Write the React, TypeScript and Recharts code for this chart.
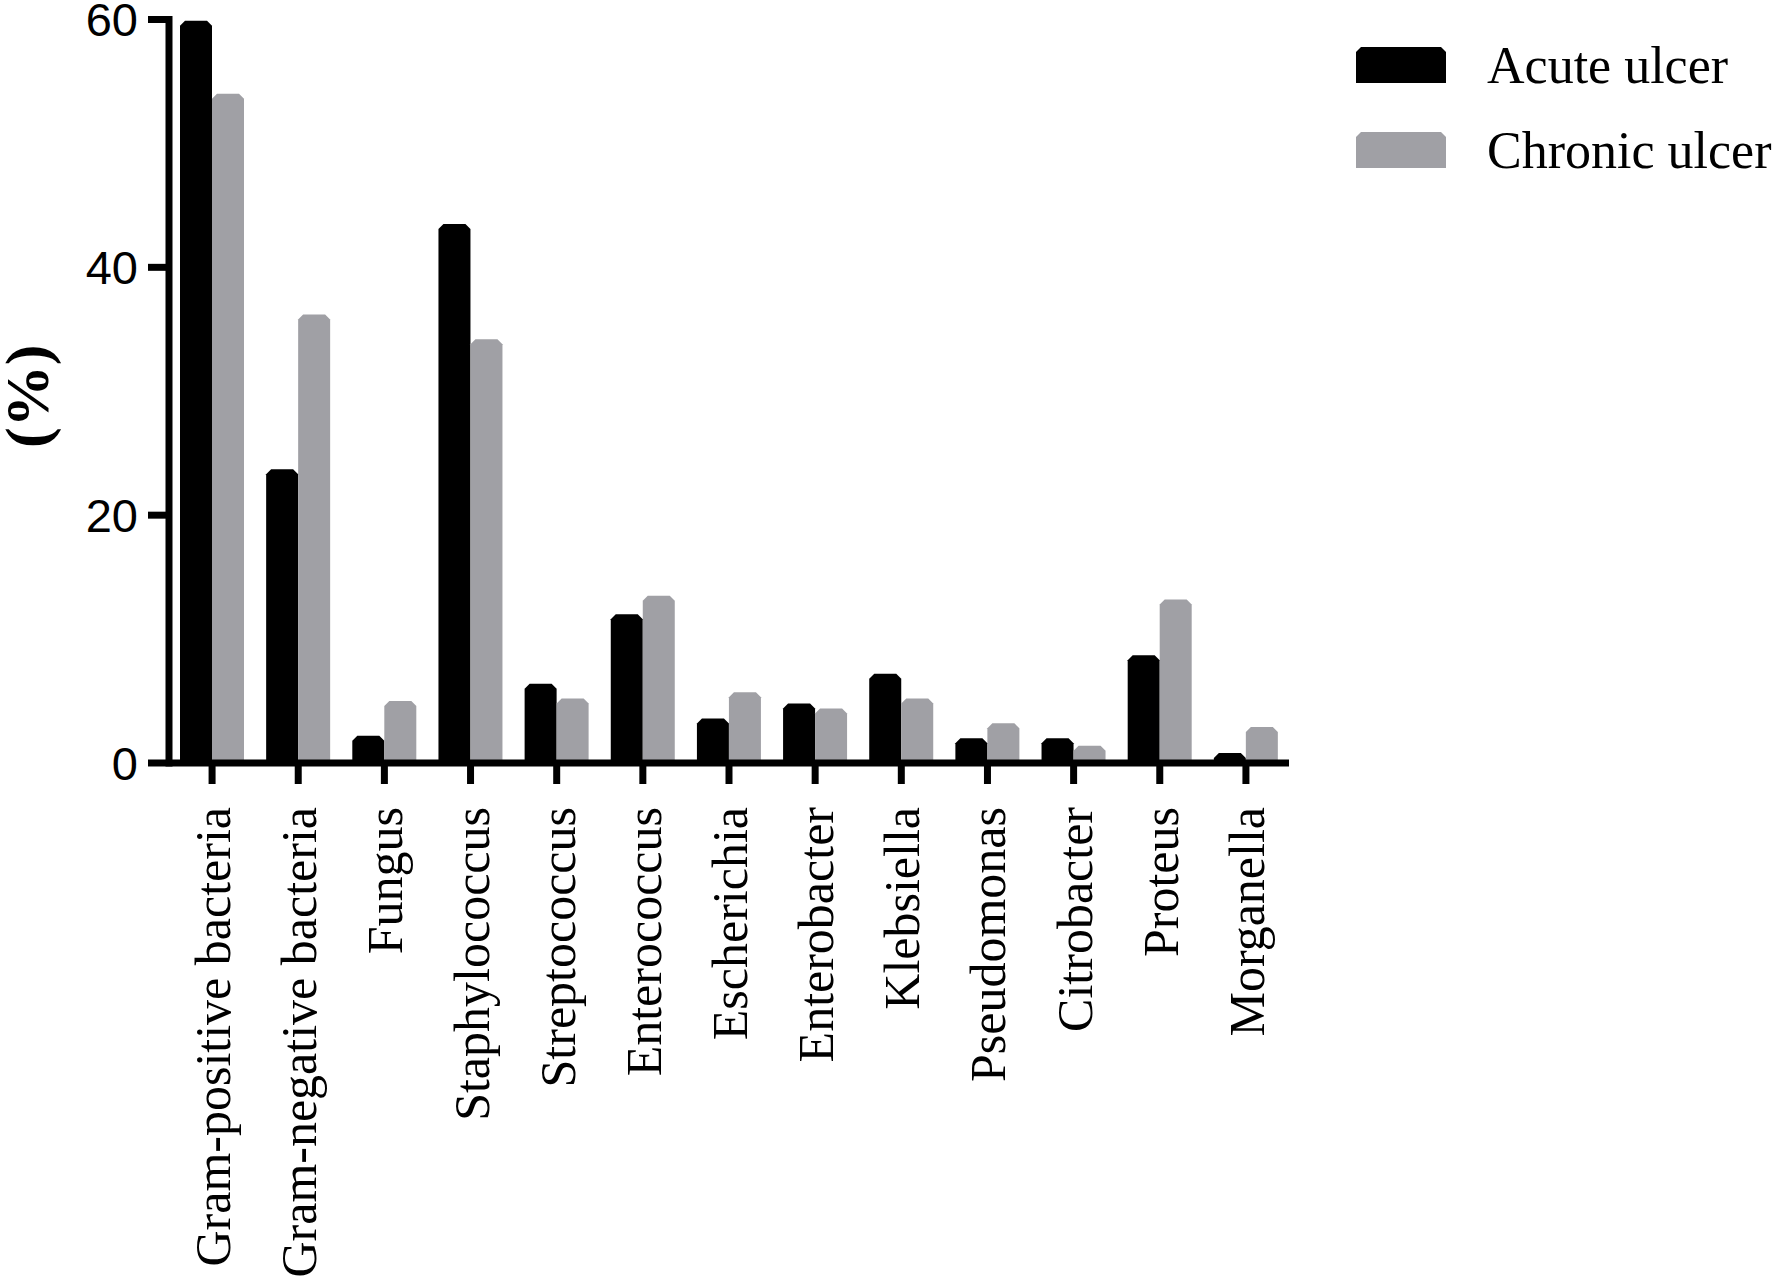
import React from 'react';
import { BarChart, Bar, XAxis, YAxis, Legend, Label } from 'recharts';

const categories = [
  'Gram-positive bacteria',
  'Gram-negative bacteria',
  'Fungus',
  'Staphylococcus',
  'Streptococcus',
  'Enterococcus',
  'Escherichia',
  'Enterobacter',
  'Klebsiella',
  'Pseudomonas',
  'Citrobacter',
  'Proteus',
  'Morganella',
];
const acuteValues = [59.9, 23.7, 2.2, 43.5, 6.4, 12.0, 3.6, 4.8, 7.2, 2.0, 2.0, 8.7, 0.8];
const chronicValues = [54.0, 36.2, 5.0, 34.2, 5.2, 13.5, 5.7, 4.4, 5.2, 3.2, 1.4, 13.2, 2.9];
const yTicks = [0, 20, 40, 60];
const seriesNames = { acute: 'Acute ulcer', chronic: 'Chronic ulcer' };

const BLACK = '#000000';
const GRAY = '#a0a0a5';
const SERIF = '"Liberation Serif", "Times New Roman", serif';
const SANS = '"Liberation Sans", Arial, sans-serif';

const data = categories.map((name, i) => ({
  name,
  acute: acuteValues[i],
  chronic: chronicValues[i],
}));

const chamferPath = (x: number, y: number, w: number, h: number, c0: number) => {
  const c = Math.max(0, Math.min(c0, h, w / 2));
  return `M${x},${y + h} L${x},${y + c} L${x + c},${y} L${x + w - c},${y} L${x + w},${y + c} L${x + w},${y + h} Z`;
};

const ChamferBar = (props: any) => {
  const { x, y, width, height, fill } = props;
  if (height == null || height <= 0) return null;
  return <path d={chamferPath(x, y, width, height, 5)} fill={fill} />;
};

const XTick = (props: any) => {
  const { x, y, payload } = props;
  return (
    <text
      transform={`translate(${x + 18},${y}) rotate(-90)`}
      textAnchor="end"
      fontFamily={SERIF}
      fontSize={50}
      fill="#000"
    >
      {payload.value}
    </text>
  );
};

const LegendContent = (props: any) => {
  const { payload } = props;
  return (
    <svg width={432} height={200} style={{ display: 'block', overflow: 'visible' }}>
      {(payload || []).map((entry: any, i: number) => {
        const top = 47 + i * 85;
        return (
          <g key={entry.value}>
            <path d={chamferPath(16, top, 90, 36, 5)} fill={entry.color} />
            <text x={147} y={top + 36} fontFamily={SERIF} fontSize={52} fill="#000">
              {entry.value}
            </text>
          </g>
        );
      })}
    </svg>
  );
};

const YLabel = (props: any) => {
  const { viewBox } = props;
  const cx = viewBox.x + 27;
  const cy = viewBox.y + viewBox.height / 2 + 5;
  return (
    <text
      x={cx}
      y={cy}
      transform={`rotate(-90 ${cx} ${cy})`}
      textAnchor="middle"
      dominantBaseline="central"
      fontFamily={SERIF}
      fontWeight="bold"
      fontSize={62}
      fill="#000"
    >
      (%)
    </text>
  );
};

export default function App() {
  return (
    <div style={{ position: 'absolute', left: 0, top: 0, width: 1772, height: 1286, background: '#fff' }}>
      <BarChart
        width={1772}
        height={1286}
        data={data}
        margin={{ top: 19.5, right: 483, left: 0, bottom: 0 }}
        barSize={32}
        barGap={0}
      >
        <Bar dataKey="acute" name={seriesNames.acute} fill={BLACK} shape={ChamferBar} isAnimationActive={false} legendType="rect" />
        <Bar dataKey="chronic" name={seriesNames.chronic} fill={GRAY} shape={ChamferBar} isAnimationActive={false} legendType="rect" />
        <XAxis
          dataKey="name"
          interval={0}
          height={523}
          tickSize={21}
          tickMargin={23}
          tick={<XTick />}
          axisLine={{ stroke: '#000', strokeWidth: 7 }}
          tickLine={{ stroke: '#000', strokeWidth: 7 }}
        />
        <YAxis
          width={169}
          domain={[0, 60]}
          ticks={yTicks}
          interval={0}
          tickSize={21}
          tickMargin={10}
          allowDataOverflow
          axisLine={{ stroke: '#000', strokeWidth: 7, strokeLinecap: 'square' }}
          tickLine={{ stroke: '#000', strokeWidth: 7 }}
          tick={{ fill: '#000', fontFamily: SANS, fontSize: 47 }}
        >
          <Label content={<YLabel />} />
        </YAxis>
        <Legend
          layout="horizontal"
          align="center"
          verticalAlign="middle"
          content={<LegendContent />}
          wrapperStyle={{ left: 1340, top: 0, width: 432, height: 200, right: 'auto', bottom: 'auto' }}
        />
      </BarChart>
    </div>
  );
}
